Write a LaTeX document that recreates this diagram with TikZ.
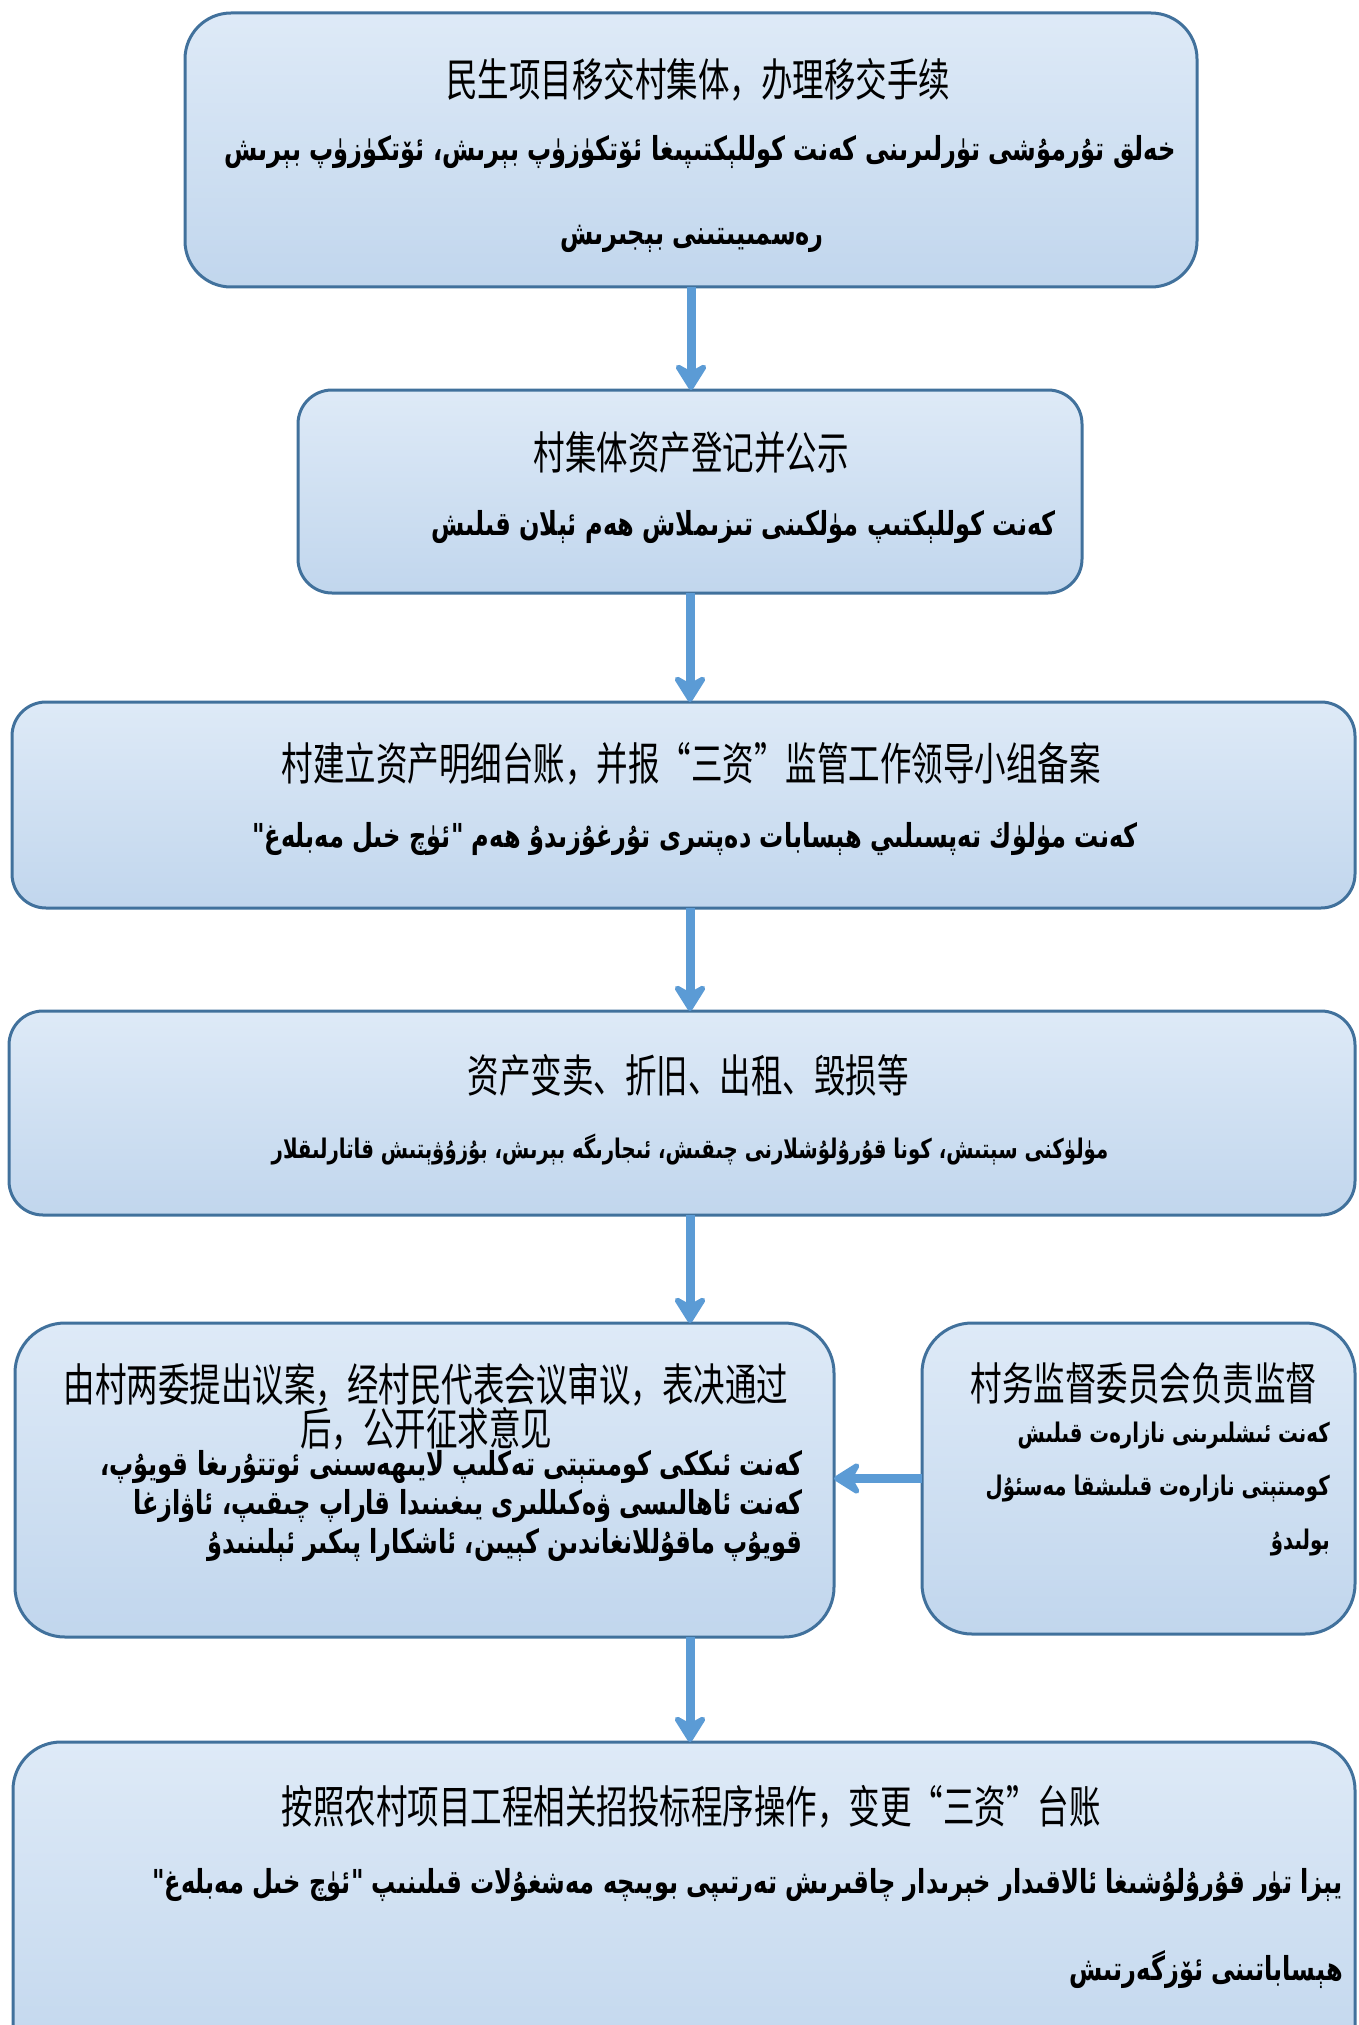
\documentclass[tikz,border=0pt]{standalone}
\usepackage{fontspec}
\usetikzlibrary{arrows.meta}
\TeXXeTstate=1
\newfontfamily\zhfont[FakeStretch=0.70]{Noto Sans CJK SC}
\newfontfamily\ugfont[Script=Arabic,FakeStretch=0.73]{DejaVu Sans}
\definecolor{boxline}{RGB}{65,113,156}
\definecolor{boxtop}{RGB}{222,234,247}
\definecolor{boxbot}{RGB}{193,214,237}
\definecolor{arrowblue}{RGB}{91,155,213}
\tikzset{
  stagebox/.style={draw=boxline, line width=3pt, top color=boxtop, bottom color=boxbot,
    inner sep=0pt, outer sep=0pt, anchor=north west},
  zhtext/.style={font=\zhfont\fontsize{45}{39}\selectfont, text=black, inner sep=0pt, align=center},
  ugtext/.style={font=\ugfont\bfseries\fontsize{33}{40}\selectfont, text=black, inner sep=0pt},
  ugsmall/.style={font=\ugfont\bfseries\fontsize{27}{34}\selectfont, text=black, inner sep=0pt},
  flow/.style={draw=arrowblue, line width=9pt, -{Stealth[length=32pt,width=40pt,inset=11pt,round]}}
}
\begin{document}
\begin{tikzpicture}[x=1pt,y=-1pt]
\useasboundingbox (0,0) rectangle (1358,2025);
\clip (0,0) rectangle (1358,2025);
% boxes
\node[stagebox, rounded corners=46pt, minimum width=1012pt, minimum height=274pt] (b1) at (185,13) {};
\node[stagebox, rounded corners=34pt, minimum width=784pt, minimum height=203pt] (b2) at (298,390) {};
\node[stagebox, rounded corners=34pt, minimum width=1343pt, minimum height=206pt] (b3) at (12,702) {};
\node[stagebox, rounded corners=34pt, minimum width=1346pt, minimum height=204pt] (b4) at (9,1011) {};
\node[stagebox, rounded corners=50pt, minimum width=819pt, minimum height=314pt] (b5) at (15,1323) {};
\node[stagebox, rounded corners=50pt, minimum width=433pt, minimum height=311pt] (b5r) at (922,1323) {};
\node[stagebox, rounded corners=48pt, minimum width=1342pt, minimum height=340pt] (b6) at (13,1742) {};
% connectors
\draw[flow] (b1.south) -- (b1.south |- b2.north);
\draw[flow] (b2.south) -- (b2.south |- b3.north);
\draw[flow] (b2.south |- b3.south) -- (b2.south |- b4.north);
\draw[flow] (b2.south |- b4.south) -- (b2.south |- b5.north);
\draw[flow] (b2.south |- b5.south) -- (b2.south |- b6.north);
\draw[flow] (b5r.west) -- (b5r.west -| b5.east);
% texts box 1
\node[zhtext] (t1a) at (698,80) {民生项目移交村集体，办理移交手续};
\node[ugtext] (t1b) at (700,152) {\beginR خەلق تۇرمۇشى تۈرلىرىنى كەنت كوللېكتىپىغا ئۆتكۈزۈپ بېرىش، ئۆتكۈزۈپ بېرىش\endR};
\node[ugtext] (t1c) at (692,239) {\beginR رەسمىيىتىنى بېجىرىش\endR};
% box 2
\node[zhtext] (t2a) at (691,452) {村集体资产登记并公示};
\node[ugtext, anchor=east] (t2b) at (1056,527) {\beginR كەنت كوللېكتىپ مۈلكىنى تىزىملاش ھەم  ئېلان قىلىش\endR};
% box 3
\node[zhtext] (t3a) at (691,764) {村建立资产明细台账，并报“三资”监管工作领导小组备案};
\node[ugtext] (t3b) at (695,839) {\beginR كەنت مۈلۈك تەپسىلىي ھېسابات دەپتىرى تۇرغۇزىدۇ ھەم "ئۈچ خىل مەبلەغ"\endR};
% box 4
\node[zhtext] (t4a) at (688,1075) {资产变卖、折旧、出租、毁损等};
\node[ugsmall] (t4b) at (690,1150) {\beginR مۈلۈكنى سېتىش، كونا قۇرۇلۇشلارنى چىقىش، ئىجارىگە بېرىش، بۇزۇۋېتىش قاتارلىقلار\endR};
% box 5 left
\node[zhtext] (t5a) at (426,1407) {由村两委提出议案，经村民代表会议审议，表决通过\\后，公开征求意见};
\node[ugtext, anchor=east] (t5c) at (803,1467) {\beginR كەنت ئىككى كومىتېتى تەكلىپ لايىھەسىنى ئوتتۇرىغا قويۇپ،\endR};
\node[ugtext, anchor=east] (t5d) at (803,1506) {\beginR كەنت ئاھالىسى ۋەكىللىرى يىغىنىدا قاراپ چىقىپ، ئاۋازغا\endR};
\node[ugtext, anchor=east] (t5e) at (803,1545) {\beginR قويۇپ ماقۇللانغاندىن  كېيىن، ئاشكارا پىكىر ئېلىنىدۇ\endR};
% box 5 right
\node[zhtext] (t5ra) at (1144,1383) {村务监督委员会负责监督};
\node[ugsmall, anchor=east] (t5rb) at (1330,1436) {\beginR كەنت ئىشلىرىنى نازارەت قىلىش\endR};
\node[ugsmall, anchor=east] (t5rc) at (1330,1489) {\beginR كومىتېتى نازارەت قىلىشقا مەسئۇل\endR};
\node[ugsmall, anchor=east] (t5rd) at (1330,1543) {\beginR بولىدۇ\endR};
% box 6
\node[zhtext] (t6a) at (691,1807) {按照农村项目工程相关招投标程序操作，变更“三资”台账};
\node[ugtext, anchor=east] (t6b) at (1343,1885) {\beginR يېزا تۈر قۇرۇلۇشىغا ئالاقىدار خېرىدار چاقىرىش تەرتىپى بويىچە مەشغۇلات قىلىنىپ  "ئۈچ خىل مەبلەغ"\endR};
\node[ugtext, anchor=east] (t6c) at (1343,1969) {\beginR ھېساباتىنى ئۆزگەرتىش\endR};
\end{tikzpicture}
\end{document}
